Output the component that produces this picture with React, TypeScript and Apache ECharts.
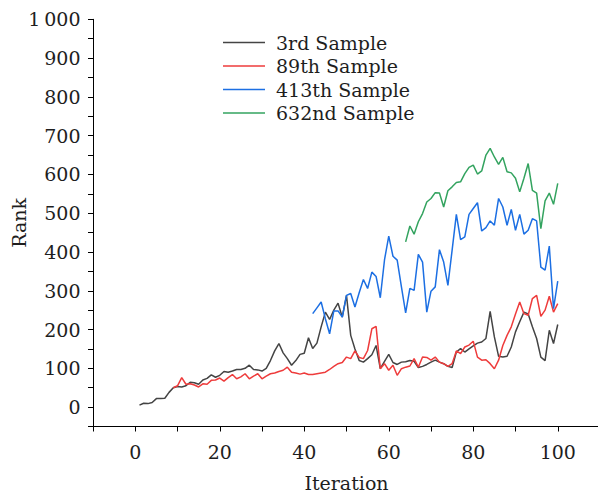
import React, { useEffect, useRef } from "react";
import * as echarts from "echarts";

const seriesNames = ["3rd Sample", "89th Sample", "413th Sample", "632nd Sample"];
const seriesColors = ["#444444", "#ee3b3b", "#1c6fe3", "#33a35f"];

// 3rd Sample: iterations 1..100
const start3 = 1;
const sample3 = [
  5, 10, 9, 12, 22, 22, 23, 38, 50, 53,
  52, 55, 64, 63, 59, 70, 74, 83, 77, 82,
  92, 90, 93, 97, 97, 100, 108, 97, 96, 93,
  100, 120, 145, 164, 140, 125, 108, 120, 136, 139,
  179, 151, 165, 207, 245, 226, 250, 268, 232, 288,
  185, 150, 120, 116, 125, 135, 159, 99, 118, 136,
  115, 110, 116, 117, 120, 118, 102, 105, 110, 116,
  121, 116, 112, 105, 102, 142, 151, 142, 150, 158,
  165, 168, 177, 247, 181, 131, 129, 131, 155, 194,
  220, 245, 240, 207, 177, 129, 120, 198, 164, 213,
];

// 89th Sample: iterations 9..100
const start89 = 9;
const sample89 = [
  50, 55, 76, 59, 60, 57, 52, 60, 59, 69,
  70, 75, 67, 76, 84, 73, 78, 86, 73, 80,
  86, 73, 80, 86, 88, 92, 95, 103, 90, 88,
  85, 88, 84, 84, 86, 88, 90, 97, 105, 112,
  115, 129, 125, 145, 128, 125, 146, 202, 208, 99,
  112, 95, 108, 82, 99, 103, 106, 125, 103, 129,
  128, 121, 129, 116, 112, 105, 112, 145, 138, 155,
  160, 170, 129, 121, 122, 112, 99, 121, 159, 185,
  207, 240, 271, 241, 237, 280, 288, 234, 250, 286,
  245, 267,
];

// 413th Sample: iterations 42..100
const start413 = 42;
const sample413 = [
  241, 256, 271, 228, 189, 248, 248, 232, 288, 293,
  258, 295, 329, 306, 348, 337, 282, 380, 441, 389,
  379, 310, 243, 306, 301, 394, 374, 245, 299, 310,
  406, 374, 314, 405, 497, 432, 439, 497, 512, 527,
  454, 463, 480, 469, 538, 516, 469, 510, 456, 497,
  446, 456, 486, 480, 361, 353, 415, 254, 325,
];

// 632nd Sample: iterations 64..100
const start632 = 64;
const sample632 = [
  426, 467, 446, 478, 499, 529, 538, 553, 552, 516,
  558, 568, 579, 581, 602, 618, 624, 601, 609, 650,
  667, 645, 626, 644, 607, 604, 590, 555, 590, 628,
  559, 552, 460, 532, 552, 523, 577,
];

const xTickLabels = [0, 20, 40, 60, 80, 100];
const yTickLabels = [0, 100, 200, 300, 400, 500, 600, 700, 800, 900, 1000];

const toPairs = (start: number, vals: number[]) => vals.map((v, i) => [start + i, v]);

const FONT = "'DejaVu Serif', serif";
const FS = 19;
const TXT = "#1e1e1e";

export default function App() {
  const ref = useRef<HTMLDivElement>(null);
  useEffect(() => {
    if (!ref.current) return;
    const chart = echarts.init(ref.current, undefined, { renderer: "svg" });
    const data = [
      toPairs(start3, sample3),
      toPairs(start89, sample89),
      toPairs(start413, sample413),
      toPairs(start632, sample632),
    ];
    chart.setOption({
      animation: false,
      backgroundColor: "#ffffff",
      textStyle: { fontFamily: FONT },
      grid: {
        left: 93,
        top: 19.3,
        right: -2,
        bottom: 67.5,
        containLabel: false,
        outerBoundsMode: "none",
      },
      legend: {
        orient: "vertical",
        left: 223,
        top: 33,
        padding: 0,
        icon: "rect",
        itemWidth: 42,
        itemHeight: 1.6,
        itemGap: 4.5,
        data: seriesNames,
        textStyle: {
          fontFamily: FONT,
          fontSize: FS,
          lineHeight: 19,
          color: TXT,
          padding: [0, 0, 0, 6],
        },
      },
      xAxis: {
        type: "value",
        min: -10,
        max: 110,
        interval: 10,
        name: "Iteration",
        nameLocation: "middle",
        nameGap: 47,
        nameMoveOverlap: false,
        nameTextStyle: { fontFamily: FONT, fontSize: FS, color: TXT },
        axisLine: { show: true, onZero: false, lineStyle: { color: "#000", width: 1 } },
        axisTick: { show: true, inside: false, length: 5, lineStyle: { color: "#000" } },
        splitLine: { show: false },
        axisLabel: {
          fontFamily: FONT,
          fontSize: FS,
          color: TXT,
          margin: 16,
          showMinLabel: true,
          showMaxLabel: true,
          formatter: (v: number) => (xTickLabels.includes(v) ? String(v) : ""),
        },
      },
      yAxis: {
        type: "value",
        min: -50,
        max: 1000,
        interval: 50,
        name: "Rank",
        nameLocation: "middle",
        nameRotate: 90,
        nameGap: 65,
        nameMoveOverlap: false,
        nameTextStyle: { fontFamily: FONT, fontSize: FS, color: TXT },
        axisLine: { show: true, onZero: false, lineStyle: { color: "#000", width: 1 } },
        axisTick: { show: true, inside: false, length: 5, lineStyle: { color: "#000" } },
        splitLine: { show: false },
        axisLabel: {
          fontFamily: FONT,
          fontSize: FS,
          color: TXT,
          margin: 12.5,
          showMinLabel: true,
          showMaxLabel: true,
          formatter: (v: number) =>
            yTickLabels.includes(v) ? (v === 1000 ? "1\u2009000" : String(v)) : "",
        },
      },
      series: seriesNames.map((name, k) => ({
        name,
        type: "line",
        data: data[k],
        symbol: "none",
        showSymbol: false,
        color: seriesColors[k],
        lineStyle: { color: seriesColors[k], width: 1.5 },
      })),
    });
    return () => chart.dispose();
  }, []);
  return (
    <div
      ref={ref}
      style={{ position: "fixed", left: 0, top: 0, width: 598, height: 494 }}
    />
  );
}
